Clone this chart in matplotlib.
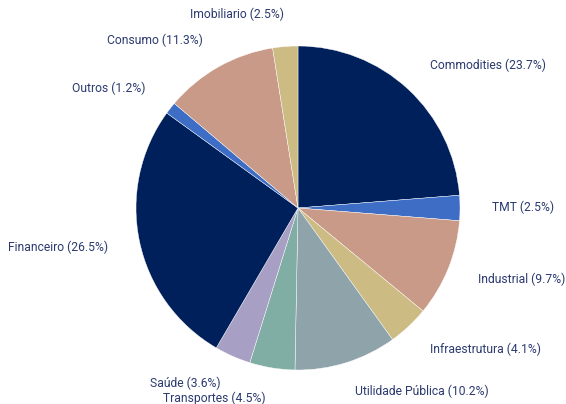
import matplotlib
matplotlib.use("Agg")
import matplotlib.pyplot as plt

categories = ["Commodities", "TMT", "Industrial", "Infraestrutura", "Utilidade Pública",
              "Transportes", "Saúde", "Financeiro", "Outros", "Consumo", "Imobiliario"]
values = [23.7, 2.5, 9.7, 4.1, 10.2, 4.5, 3.6, 26.5, 1.2, 11.3, 2.5]
colors = ["#00205B", "#3D6DC5", "#C99A88", "#CDBB84", "#8FA3AB",
          "#80AEA5", "#A8A0C4", "#00205B", "#3D6DC5", "#C99A88", "#CDBB84"]

# label anchor positions (pixel coords, y from top) and alignment
label_pos = [(430, 65, "left"), (492, 207, "left"), (478, 279, "left"), (430, 349, "left"),
             (355, 391, "left"), (163, 398, "left"), (150, 383, "left"), (108, 247, "right"),
             (145, 88, "right"), (203, 40, "right"), (190, 14, "left")]

W, H = 566, 404
fig = plt.figure(figsize=(W / 100, H / 100), dpi=100)
ax = fig.add_axes([0, 0, 1, 1])

cx, cy, R = 298, H - 208, 162
ax.pie(values, colors=colors, startangle=90, counterclock=False, center=(cx, cy), radius=R,
       wedgeprops=dict(edgecolor="white", linewidth=0.3), frame=True)
ax.set_xlim(0, W)
ax.set_ylim(0, H)
ax.set_aspect("equal")
ax.axis("off")

for cat, v, (x, y, ha) in zip(categories, values, label_pos):
    ax.text(x, H - y, f"{cat} ({v}%)", ha=ha, va="center", fontsize=8.7,
            color="#2B3A70", family=["Roboto", "DejaVu Sans"])

fig.savefig("out.png", dpi=100)
